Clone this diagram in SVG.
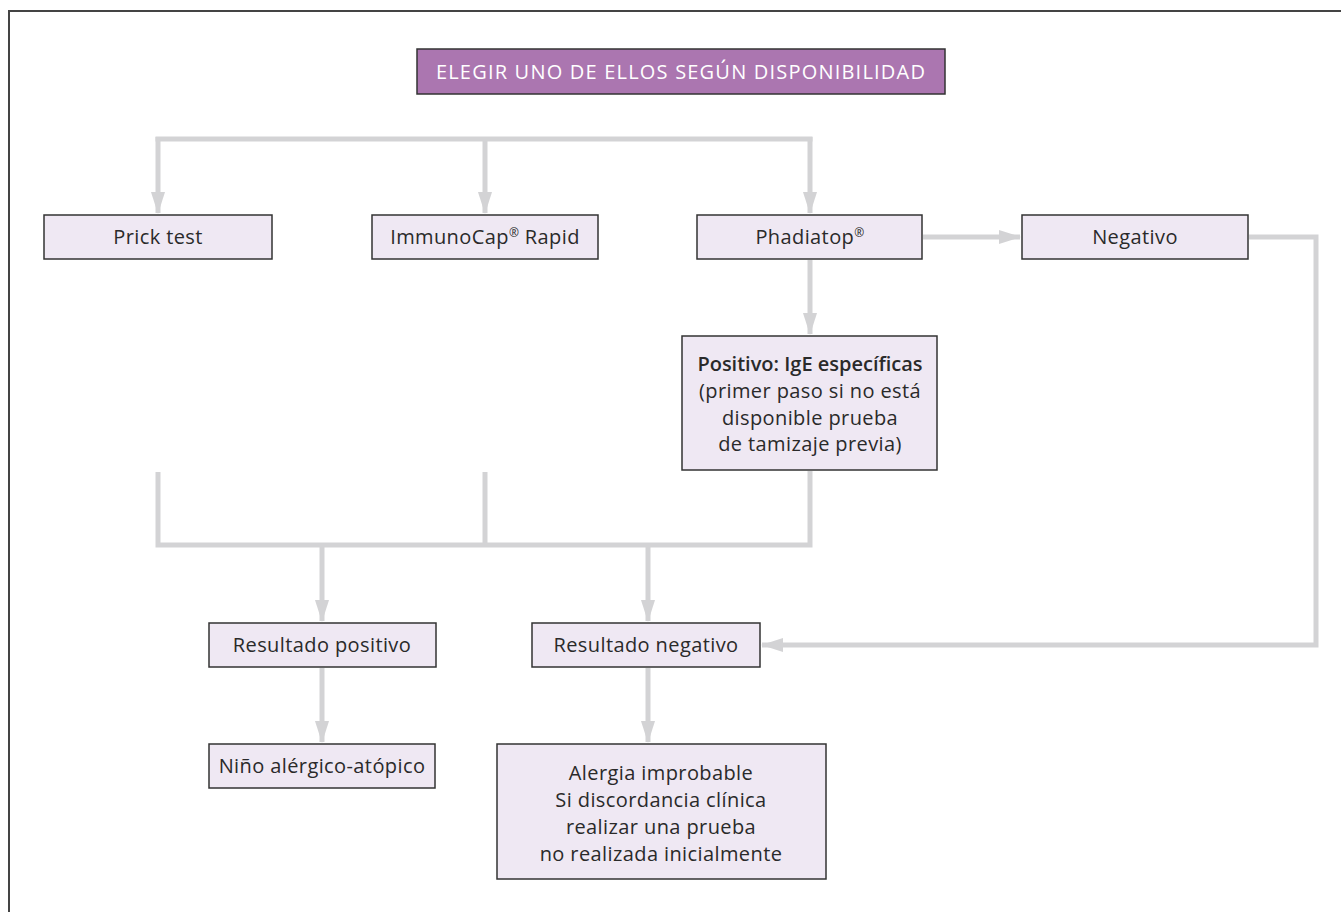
<svg xmlns="http://www.w3.org/2000/svg" width="1341" height="912" viewBox="0 0 1341 912">
<style>
.box{fill:#efe8f3;stroke:#333;stroke-width:1.5}
.t{font-family:"Open Sans","Liberation Sans",sans-serif;font-size:20px;letter-spacing:0.4px;fill:#2a2a2a;text-anchor:middle}
.c{fill:none;stroke:#d3d3d5;stroke-width:5}
.r{font-size:12px}
</style>
<defs>
<marker id="ah" markerUnits="userSpaceOnUse" markerWidth="22" markerHeight="14" refX="21" refY="7" orient="auto" viewBox="0 0 22 14">
<path d="M0,0 L22,7 L0,14 z" fill="#d3d3d5"/>
</marker>
</defs>
<rect width="1341" height="912" fill="#fff"/>
<path d="M9,912 V11 H1341" fill="none" stroke="#444" stroke-width="2"/>
<g id="connectors">
<path class="c" d="M158,139 H810" stroke-linecap="square"/>
<path class="c" d="M158,137 V213" marker-end="url(#ah)"/>
<path class="c" d="M485,139 V213" marker-end="url(#ah)"/>
<path class="c" d="M810,137 V213" marker-end="url(#ah)"/>
<path class="c" d="M923,237 H1020" marker-end="url(#ah)"/>
<path class="c" d="M1249,237 H1316 V645 H762" marker-end="url(#ah)"/>
<path class="c" d="M810,260 V334" marker-end="url(#ah)"/>
<path class="c" d="M158,472 V545 H810 V471"/>
<path class="c" d="M485,472 V545"/>
<path class="c" d="M322,545 V621" marker-end="url(#ah)"/>
<path class="c" d="M648,545 V621" marker-end="url(#ah)"/>
<path class="c" d="M322,668 V742" marker-end="url(#ah)"/>
<path class="c" d="M648,668 V742" marker-end="url(#ah)"/>
</g>
<g id="n-top">
<rect x="417" y="49" width="528" height="45" fill="#ab76b0" stroke="#333" stroke-width="1.5"/>
<text class="t" x="681" y="79" style="fill:#fff;letter-spacing:1.2px">ELEGIR UNO DE ELLOS SEGÚN DISPONIBILIDAD</text>
</g>
<g id="n-prick">
<rect class="box" x="44" y="215" width="228" height="44"/>
<text class="t" x="158" y="244">Prick test</text>
</g>
<g id="n-immuno">
<rect class="box" x="372" y="215" width="226" height="44"/>
<text class="t" x="485" y="244">ImmunoCap<tspan class="r" dy="-7">®</tspan><tspan dy="7"> Rapid</tspan></text>
</g>
<g id="n-phadiatop">
<rect class="box" x="697" y="215" width="225" height="44"/>
<text class="t" x="810" y="244">Phadiatop<tspan class="r" dy="-7">®</tspan></text>
</g>
<g id="n-negativo">
<rect class="box" x="1022" y="215" width="226" height="44"/>
<text class="t" x="1135" y="244">Negativo</text>
</g>
<g id="n-positivo">
<rect class="box" x="682" y="336" width="255" height="134"/>
<text class="t" x="810" y="371" style="font-weight:600;letter-spacing:0">Positivo: IgE específicas</text>
<text class="t" x="810" y="398">(primer paso si no está</text>
<text class="t" x="810" y="425">disponible prueba</text>
<text class="t" x="810" y="451">de tamizaje previa)</text>
</g>
<g id="n-respos">
<rect class="box" x="209" y="623" width="227" height="44"/>
<text class="t" x="322" y="652">Resultado positivo</text>
</g>
<g id="n-resneg">
<rect class="box" x="532" y="623" width="228" height="44"/>
<text class="t" x="646" y="652">Resultado negativo</text>
</g>
<g id="n-nino">
<rect class="box" x="209" y="744" width="226" height="44"/>
<text class="t" x="322" y="773">Niño alérgico-atópico</text>
</g>
<g id="n-alergia">
<rect class="box" x="497" y="744" width="329" height="135"/>
<text class="t" x="661" y="780">Alergia improbable</text>
<text class="t" x="661" y="807">Si discordancia clínica</text>
<text class="t" x="661" y="834">realizar una prueba</text>
<text class="t" x="661" y="861">no realizada inicialmente</text>
</g>
</svg>
